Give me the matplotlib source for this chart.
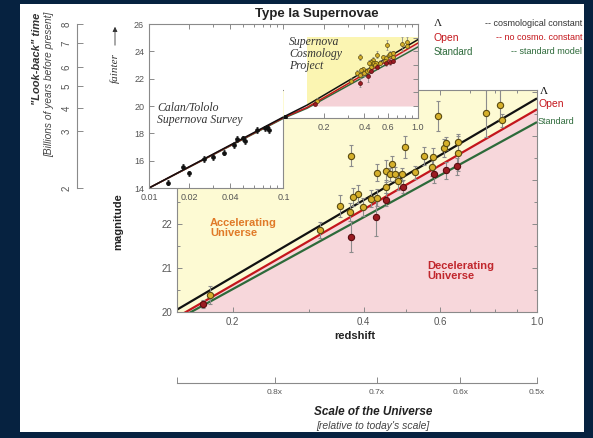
import matplotlib
matplotlib.use("Agg")
import matplotlib.pyplot as plt
from matplotlib.patches import Rectangle, FancyArrowPatch
from matplotlib.ticker import (FixedLocator, FixedFormatter, LogLocator,
                               MultipleLocator, NullFormatter, NullLocator)

plt.rcParams['font.family'] = ['Liberation Sans', 'DejaVu Sans']

# model curves: apparent magnitude against redshift
model_z = [0.01, 0.1, 0.15, 1.0]
mag_lambda = [14.0, 19.2, 20.07, 24.86]
mag_open = [14.0, 19.15, 19.9, 24.61]
mag_standard = [14.0, 19.1, 19.84, 24.32]

# Supernova Cosmology Project (high redshift)
scp_z = [0.591, 0.763, 0.823, 0.832, 0.373, 0.497, 0.549, 0.578, 0.611, 0.618,
         0.657, 0.657, 0.573, 0.465, 0.450, 0.429, 0.459, 0.473, 0.491, 0.525,
         0.480, 0.450, 0.388, 0.377, 0.352, 0.372, 0.399, 0.415, 0.429, 0.317, 0.177]
scp_mag = [24.46, 24.52, 24.70, 24.36, 23.56, 23.75, 23.55, 23.52, 23.73, 23.84,
           23.86, 23.61, 23.30, 23.36, 23.21, 23.17, 23.13, 23.14, 23.13, 23.18,
           22.98, 22.85, 22.68, 22.61, 22.41, 22.28, 22.39, 22.58, 22.60, 21.86, 20.39]
scp_err = [0.34, 0.53, 0.34, 0.15, 0.23, 0.25, 0.20, 0.20, 0.20, 0.15,
           0.20, 0.40, 0.20, 0.20, 0.25, 0.20, 0.15, 0.15, 0.15, 0.15,
           0.20, 0.15, 0.20, 0.20, 0.25, 0.20, 0.20, 0.20, 0.20, 0.18, 0.20]

# SCP supernovae drawn in red
red_z = [0.493, 0.450, 0.580, 0.617, 0.654, 0.426, 0.373, 0.171]
red_mag = [22.85, 22.55, 23.13, 23.22, 23.31, 22.17, 21.71, 20.18]
red_err = [0.15, 0.15, 0.20, 0.20, 0.20, 0.45, 0.35, 0.10]

# Calan/Tololo survey (low redshift)
ct_z = [0.0139, 0.0180, 0.0199, 0.0258, 0.0301, 0.0361, 0.0428, 0.0448,
        0.0502, 0.0518, 0.0632, 0.0728, 0.0750, 0.0784, 0.1026]
ct_mag = [14.39, 15.56, 15.08, 16.12, 16.25, 16.59, 17.15, 17.57,
          17.64, 17.44, 18.25, 18.37, 18.44, 18.25, 19.17]
ct_err = [0.2] * len(ct_z)

# look-back time scale (Gyr) and where it falls on the inset magnitude axis
lookback_gyr = [2, 3, 4, 5, 6, 7, 8]
lookback_mag = [14.0, 18.17, 19.86, 21.46, 22.85, 24.61, 26.0]

scale_factor = [0.8, 0.7, 0.6, 0.5]

NAVY = '#062240'
YELLOW = '#fdfad3'
PINK = '#f7d7db'
IN_YELLOW = '#fbf5b2'
IN_PINK = '#f5d2d7'
C_LAMBDA = '#111111'
C_OPEN = '#c4161c'
C_STD = '#2d6a3a'
GOLD = '#d6b02a'
DARKRED = '#9b1b22'

W, H = 593, 438


def px(x, y):
    return x / W, 1 - y / H


def box(x0, y0, x1, y1):
    return [x0 / W, 1 - y1 / H, (x1 - x0) / W, (y1 - y0) / H]


def style(ax, size=6.5):
    ax.tick_params(which='both', direction='in', colors='#8a8a8a',
                   labelcolor='#555555', labelsize=size, width=0.7)
    ax.tick_params(which='major', length=3.5)
    ax.tick_params(which='minor', length=2)
    for s in ax.spines.values():
        s.set_color('#8a8a8a')
        s.set_linewidth(0.8)


def log_ticks(ax, values):
    ax.xaxis.set_major_locator(FixedLocator(values))
    ax.xaxis.set_major_formatter(FixedFormatter([f'{v:g}' if v < 1 else '1.0' for v in values]))
    ax.xaxis.set_minor_locator(LogLocator(subs=range(2, 10)))
    ax.xaxis.set_minor_formatter(NullFormatter())


fig = plt.figure(figsize=(W / 100, H / 100), dpi=100, facecolor=NAVY)
fig.patches.append(Rectangle(px(20, 432), 564 / W, 428 / H, transform=fig.transFigure,
                             fc='white', ec='none', zorder=-1))

# ---- main panel
main_xlim = (0.149, 1.0)
ax = fig.add_axes(box(177, 90, 537, 312), zorder=1)
ax.set_facecolor(YELLOW)
ax.set_xscale('log')
ax.fill_between(model_z, 0, mag_open, color=PINK, lw=0, zorder=0)
for mags, c in [(mag_standard, C_STD), (mag_open, C_OPEN), (mag_lambda, C_LAMBDA)]:
    ax.plot(model_z, mags, color=c, lw=1.6, zorder=2, solid_capstyle='butt')
ax.errorbar(scp_z, scp_mag, yerr=scp_err, fmt='o', ms=4.5, mfc=GOLD, mec='#5a4a10',
            mew=0.8, ecolor='#8c8c8c', elinewidth=0.8, capsize=1.5, capthick=0.8, zorder=4)
ax.errorbar(red_z, red_mag, yerr=red_err, fmt='o', ms=4.5, mfc=DARKRED, mec='#5a0c10',
            mew=0.8, ecolor='#8c8c8c', elinewidth=0.8, capsize=1.5, capthick=0.8, zorder=4)
ax.set_xlim(*main_xlim)
ax.set_ylim(20, 25.05)
log_ticks(ax, [0.2, 0.4, 0.6, 1.0])
ax.yaxis.set_major_locator(MultipleLocator(1))
ax.yaxis.set_minor_locator(MultipleLocator(0.5))
style(ax, 7)
ax.tick_params(which='both', top=True, right=True)

ax.annotate('Λ', (model_z[-1], mag_lambda[-1]), xytext=(2, 5), textcoords='offset points',
            ha='left', va='center', fontsize=8, family=['Liberation Serif'], color='#111111',
            annotation_clip=False)
ax.annotate('Open', (model_z[-1], mag_open[-1]), xytext=(1, 4), textcoords='offset points',
            ha='left', va='center', fontsize=7.5, color=C_OPEN, annotation_clip=False)
ax.annotate('Standard', (model_z[-1], mag_standard[-1]), xytext=(0.5, 0.5),
            textcoords='offset points', ha='left', va='center', fontsize=6.5,
            color=C_STD, annotation_clip=False)

# ---- inset, left part (low redshift)
ia = fig.add_axes(box(149, 24, 283.5, 188), zorder=3)
ia.set_facecolor('white')
ia.set_xscale('log')
# ---- inset, right part (high redshift)
inset_b_bottom = 26 - 12 * (118 - 24) / (188 - 24)
ib = fig.add_axes(box(283.5, 24, 418, 118), zorder=3)
ib.set_facecolor('white')
ib.set_xscale('log')

shade = Rectangle((main_xlim[0], 20), main_xlim[1] - main_xlim[0], 5.05,
                  fc=IN_YELLOW, ec='none', zorder=0)
ib.add_patch(shade)
pink = ib.fill_between(model_z, 20, mag_open, color=IN_PINK, lw=0, zorder=0.5)
pink.set_clip_path(shade)

for a in (ia, ib):
    for mags, c in [(mag_standard, C_STD), (mag_open, C_OPEN), (mag_lambda, C_LAMBDA)]:
        a.plot(model_z, mags, color=c, lw=1.1, zorder=2)
    a.errorbar(ct_z, ct_mag, yerr=ct_err, fmt='o', ms=2.4, mfc='#111111', mec='#111111',
               ecolor='#222222', elinewidth=0.6, capsize=1, capthick=0.6, zorder=4)
    a.errorbar(scp_z, scp_mag, yerr=scp_err, fmt='o', ms=2.8, mfc=GOLD, mec='#5a4a10',
               mew=0.5, ecolor='#8c8c8c', elinewidth=0.6, capsize=1, capthick=0.6, zorder=4)
    a.errorbar(red_z, red_mag, yerr=red_err, fmt='o', ms=2.8, mfc=DARKRED, mec='#5a0c10',
               mew=0.5, ecolor='#8c8c8c', elinewidth=0.6, capsize=1, capthick=0.6, zorder=4)

ia.set_xlim(0.01, 0.1)
ia.set_ylim(14, 26)
log_ticks(ia, [0.01, 0.02, 0.04, 0.1])
ia.yaxis.set_major_locator(MultipleLocator(2))
style(ia, 6.5)
ia.tick_params(which='both', top=True, right=False)
ia.spines['right'].set_bounds(14, inset_b_bottom)

ib.set_xlim(0.1, 1.0)
ib.set_ylim(inset_b_bottom, 26)
log_ticks(ib, [0.2, 0.4, 0.6, 1.0])
ib.yaxis.set_major_locator(MultipleLocator(1))
style(ib, 6.5)
ib.spines['left'].set_visible(False)
ib.tick_params(which='both', top=True, right=True, left=False, labelleft=False)

fig.text(*px(157, 114), 'Calan/Tololo\nSupernova Survey', ha='left', va='center',
         family=['Liberation Serif'], style='italic', fontsize=8.5, color='#333333',
         linespacing=1.0, zorder=5)
fig.text(*px(289, 54), 'Supernova\nCosmology\nProject', ha='left', va='center',
         family=['Liberation Serif'], style='italic', fontsize=8.5, color='#333333',
         linespacing=0.95, zorder=5)

# ---- look-back time axis
lb = fig.add_axes(box(77, 24, 78, 188), zorder=2)
lb.set_facecolor('none')
lb.set_ylim(14, 26)
for s in ['top', 'right', 'bottom']:
    lb.spines[s].set_visible(False)
lb.set_xticks([])
lb.set_yticks(lookback_mag, labels=[str(v) for v in lookback_gyr], rotation=90, va='center')
style(lb, 7)
lb.tick_params(length=4, pad=4)

fig.text(*px(37, 13), '"Look-back" time', rotation=90, ha='center', va='top',
         fontsize=8, fontweight='bold', style='italic', color='#333333')
fig.text(*px(49, 12), '[Billions of years before present]', rotation=90, ha='center',
         va='top', fontsize=7.3, style='italic', color='#444444')

# ---- scale of the universe axis
sc = fig.add_axes(box(177, 382.5, 537, 383), zorder=2)
sc.set_facecolor('none')
sc.set_xscale('log')
sc.set_xlim(*main_xlim)
for s in ['top', 'right', 'left']:
    sc.spines[s].set_visible(False)
sc.set_yticks([])
sc.set_xticks([main_xlim[0]] + [1 / a - 1 for a in scale_factor],
              labels=[''] + [f'{a:.1f}x' for a in scale_factor])
sc.xaxis.set_minor_locator(NullLocator())
style(sc, 6)
sc.tick_params(length=4, pad=4)

fig.text(*px(373, 412), 'Scale of the Universe', ha='center', va='center', fontsize=8.5,
         fontweight='bold', style='italic', color='#222222')
fig.text(*px(373, 426), "[relative to today's scale]", ha='center', va='center',
         fontsize=7.5, style='italic', color='#444444')

# ---- labels
fig.text(*px(317, 14), 'Type Ia Supernovae', ha='center', va='center', fontsize=9.5,
         fontweight='bold', color='#222222')
fig.text(*px(118, 222), 'magnitude', rotation=90, ha='center', va='center', fontsize=8,
         fontweight='bold', color='#222222')
fig.text(*px(355, 336), 'redshift', ha='center', va='center', fontsize=8,
         fontweight='bold', color='#222222')
fig.text(*px(210, 228), 'Accelerating\nUniverse', ha='left', va='center', fontsize=8,
         fontweight='bold', color='#e07a28', linespacing=0.95, zorder=5)
fig.text(*px(427, 271), 'Decelerating\nUniverse', ha='left', va='center', fontsize=8,
         fontweight='bold', color='#c1272d', linespacing=0.95, zorder=5)

fig.text(*px(115, 68), 'fainter', rotation=90, ha='center', va='center', fontsize=8,
         family=['Liberation Serif'], style='italic', color='#333333')
fig.add_artist(FancyArrowPatch(px(115, 48), px(115, 24), transform=fig.transFigure,
                               arrowstyle='-|>', mutation_scale=7, lw=0.6, color='#333333'))

# legend text
fig.text(*px(434, 23), 'Λ', ha='left', va='center', fontsize=8,
         family=['Liberation Serif'], color='#222222')
fig.text(*px(582, 23), '-- cosmological constant', ha='right', va='center', fontsize=6.5,
         color='#333333')
fig.text(*px(434, 38), 'Open', ha='left', va='center', fontsize=7.5, color=C_OPEN)
fig.text(*px(582, 38), '-- no cosmo. constant', ha='right', va='center', fontsize=6.5,
         color=C_OPEN)
fig.text(*px(434, 52), 'Standard', ha='left', va='center', fontsize=7, color=C_STD)
fig.text(*px(582, 52), '-- standard model', ha='right', va='center', fontsize=6.5,
         color=C_STD)

fig.savefig('out.png', dpi=100, facecolor=fig.get_facecolor())
